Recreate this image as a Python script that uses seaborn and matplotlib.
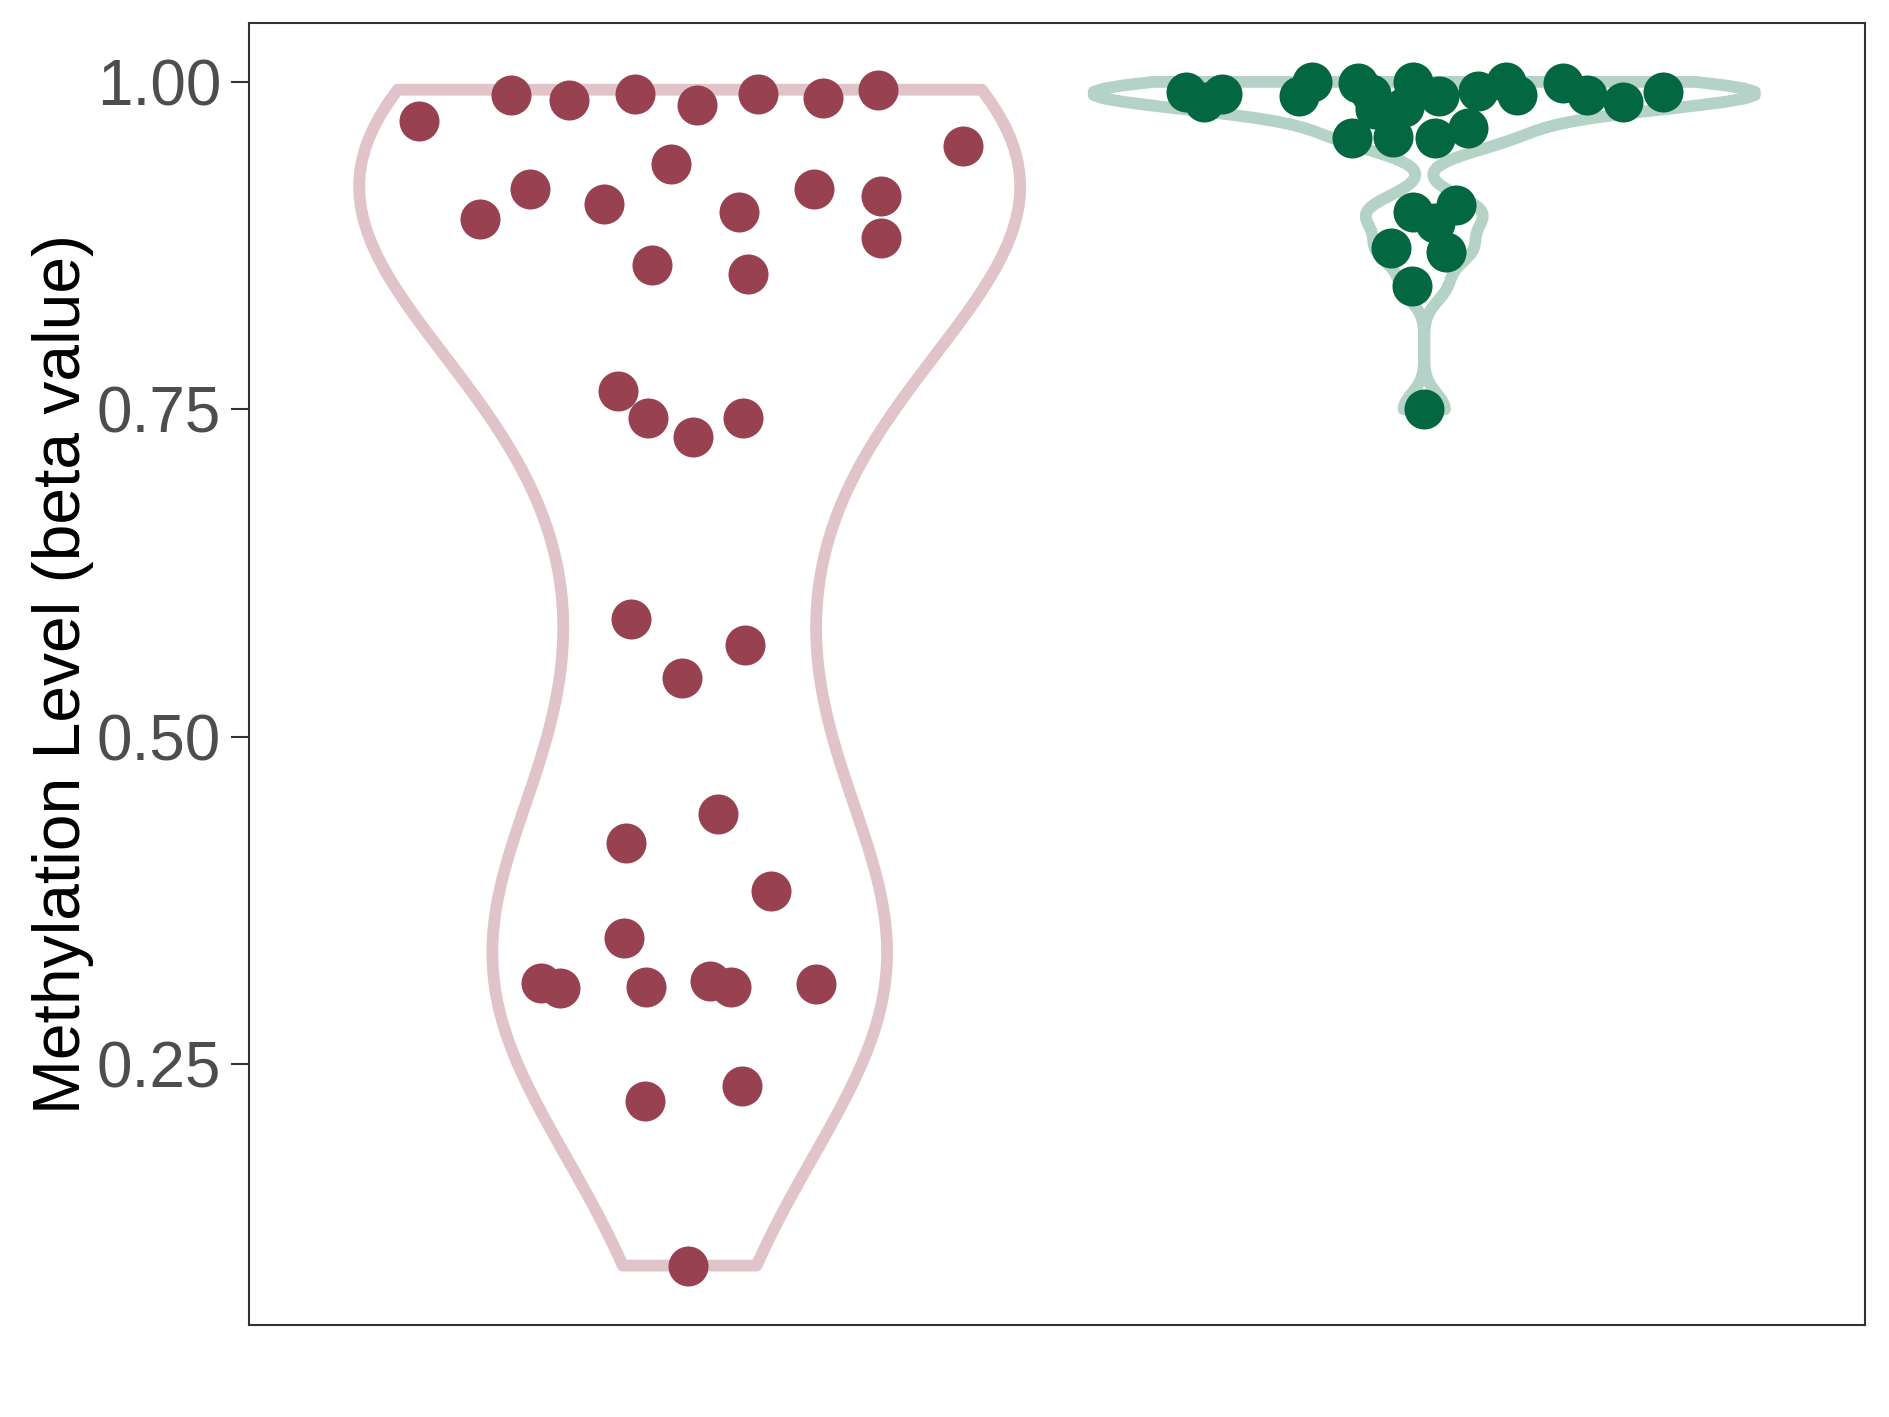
"""
Violin + jittered points: methylation beta values for two groups.
"""
import matplotlib

matplotlib.use("Agg")
import matplotlib.pyplot as plt
import numpy as np
import pandas as pd
import seaborn as sns

groups = ["Group A", "Group B"]

# group A: beta values and horizontal jitter offsets (category units)
a_values = [0.970, 0.990, 0.986, 0.991, 0.982, 0.991, 0.988, 0.994, 0.951,
            0.937, 0.918, 0.907, 0.895, 0.901, 0.918, 0.913, 0.881, 0.860,
            0.853, 0.764, 0.743, 0.729, 0.743, 0.590, 0.570, 0.545, 0.441,
            0.419, 0.382, 0.346, 0.312, 0.308, 0.309, 0.313, 0.309, 0.311,
            0.222, 0.233, 0.096]
a_jitter = [-0.368, -0.243, -0.164, -0.075, 0.010, 0.093, 0.181, 0.257, 0.372,
            -0.026, -0.218, -0.117, -0.286, 0.067, 0.169, 0.261, 0.260, -0.052,
            0.079, -0.098, -0.057, 0.005, 0.072, -0.080, 0.075, -0.011, 0.039,
            -0.087, 0.110, -0.089, -0.203, -0.176, -0.059, 0.028, 0.056, 0.172,
            -0.061, 0.071, -0.002]

# group B
b_values = [0.992, 0.985, 0.991, 0.989, 1.000, 0.999, 0.991, 0.979, 0.957,
            0.958, 1.000, 0.981, 0.989, 0.957, 0.965, 0.993, 1.000, 0.990,
            0.999, 0.990, 0.985, 0.992, 0.901, 0.906, 0.892, 0.873, 0.870,
            0.844, 0.750]
b_jitter = [-0.325, -0.300, -0.275, -0.170, -0.153, -0.090, -0.073, -0.067, -0.098,
            -0.043, -0.016, -0.027, 0.020, 0.014, 0.059, 0.073, 0.111, 0.126,
            0.189, 0.222, 0.271, 0.325, -0.016, 0.043, 0.014, -0.045, 0.030,
            -0.017, 0.000]

point_colors = ["#984150", "#036742"]
violin_colors = ["#E0C4C9", "#B4D2C6"]

df = pd.DataFrame({
    "group": [groups[0]] * len(a_values) + [groups[1]] * len(b_values),
    "value": a_values + b_values,
    "jitter": a_jitter + b_jitter,
})
df["xpos"] = df["group"].map({g: i for i, g in enumerate(groups)}) + df["jitter"]

sns.set_style("white")
plt.rcParams["font.family"] = ["Liberation Sans", "DejaVu Sans"]

fig = plt.figure(figsize=(18.89, 14.17), dpi=100)
ax = fig.add_axes([0.1318, 0.0649, 0.8555, 0.9189])


def nrd0_factor(v):
    # R's bw.nrd0 expressed as a gaussian_kde factor
    v = np.asarray(v)
    sd = v.std(ddof=1)
    iqr = np.subtract(*np.percentile(v, [75, 25]))
    bw = 0.9 * min(sd, iqr / 1.34) * len(v) ** -0.2
    return bw / sd


for g, vc in zip(groups, violin_colors):
    sub = df[df["group"] == g]
    sns.violinplot(
        data=sub, x="group", y="value", order=groups,
        bw_method=nrd0_factor(sub["value"]), cut=0, inner=None,
        density_norm="width", width=0.9, fill=False,
        color=vc, linewidth=8.5, ax=ax,
    )

for g, pc in zip(groups, point_colors):
    sub = df[df["group"] == g]
    sns.scatterplot(data=sub, x="xpos", y="value", color=pc, s=830,
                    linewidth=0, ax=ax, zorder=5)

ax.set_xlim(-0.6, 1.6)
ax.set_ylim(0.0506, 1.045)
ax.set_xticks([])
ax.set_xlabel("")
ax.set_yticks([0.25, 0.50, 0.75, 1.00])
ax.set_yticklabels(["0.25", "0.50", "0.75", "1.00"])
ax.tick_params(axis="y", labelsize=46, labelcolor="#4D4D4D", color="#333333",
               length=13, width=1.5, left=True, pad=7)
ax.set_ylabel("Methylation Level (beta value)", fontsize=47.5, color="black", labelpad=2)

for sp in ax.spines.values():
    sp.set_color("#333333")
    sp.set_linewidth(1.5)

fig.savefig("out.png", dpi=100)
plt.close(fig)
